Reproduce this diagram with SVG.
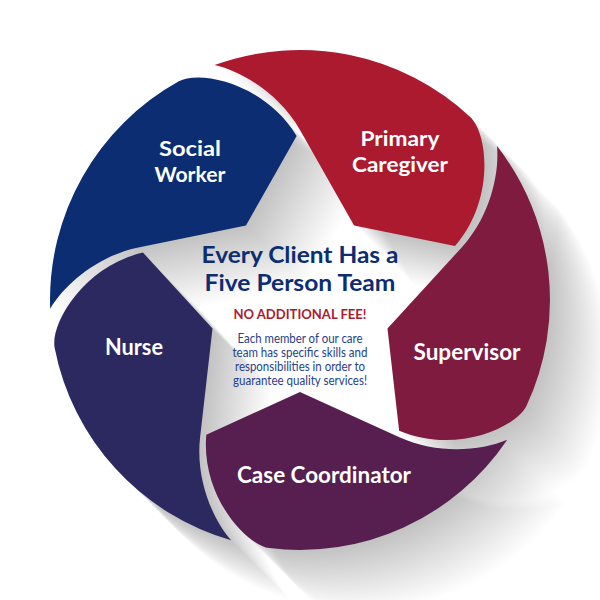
<svg xmlns="http://www.w3.org/2000/svg" xmlns:xlink="http://www.w3.org/1999/xlink" width="600" height="600" viewBox="0 0 600 600">
<style>
.lbl{font-family:Lato,"Open Sans","Liberation Sans",sans-serif;font-weight:700;font-size:23px;fill:#ffffff;text-anchor:middle}
.lbl2{font-family:Lato,"Open Sans","Liberation Sans",sans-serif;font-weight:700;font-size:21px;fill:#ffffff;text-anchor:middle}
.title{font-family:Lato,"Open Sans","Liberation Sans",sans-serif;font-weight:700;font-size:22px;fill:#0c2d72;text-anchor:middle}
.fee{font-family:Lato,"Open Sans","Liberation Sans",sans-serif;font-weight:700;font-size:14px;fill:#ad1a2e;text-anchor:middle}
.body{font-family:Lato,"Open Sans","Liberation Sans",sans-serif;font-weight:400;font-size:12.5px;fill:#27408b;text-anchor:middle}
</style>
<defs>
<path id="blade" d="M214.5,65.1 A250,250 0 0 1 470.5,117.2 C488,134 495,200 455,246.1 L354.1,225.6 L300,130 C280.3,95.2 243.6,71.7 214.5,65.1 Z"/>
<g id="all">
<use xlink:href="#blade"/>
<use xlink:href="#blade" transform="rotate(72 300 300)"/>
<use xlink:href="#blade" transform="rotate(144 300 300)"/>
<use xlink:href="#blade" transform="rotate(216 300 300)"/>
<use xlink:href="#blade" transform="rotate(288 300 300)"/>
</g>
</defs>
<rect width="600" height="600" fill="#ffffff"/>
<g id="long-shadow" fill="#000000" fill-opacity="0.0065">
<use xlink:href="#all" x="2" y="2"/><use xlink:href="#all" x="4" y="4"/><use xlink:href="#all" x="6" y="6"/><use xlink:href="#all" x="8" y="8"/><use xlink:href="#all" x="10" y="10"/>
<use xlink:href="#all" x="12" y="12"/><use xlink:href="#all" x="14" y="14"/><use xlink:href="#all" x="16" y="16"/><use xlink:href="#all" x="18" y="18"/><use xlink:href="#all" x="20" y="20"/>
<use xlink:href="#all" x="22" y="22"/><use xlink:href="#all" x="24" y="24"/><use xlink:href="#all" x="26" y="26"/><use xlink:href="#all" x="28" y="28"/><use xlink:href="#all" x="30" y="30"/>
<use xlink:href="#all" x="32" y="32"/><use xlink:href="#all" x="34" y="34"/><use xlink:href="#all" x="36" y="36"/><use xlink:href="#all" x="38" y="38"/><use xlink:href="#all" x="40" y="40"/>
<use xlink:href="#all" x="42" y="42"/><use xlink:href="#all" x="44" y="44"/><use xlink:href="#all" x="46" y="46"/><use xlink:href="#all" x="48" y="48"/><use xlink:href="#all" x="50" y="50"/>
<use xlink:href="#all" x="52" y="52"/><use xlink:href="#all" x="54" y="54"/><use xlink:href="#all" x="56" y="56"/><use xlink:href="#all" x="58" y="58"/><use xlink:href="#all" x="60" y="60"/>
</g>
<g id="connectors"></g>
<g id="node-social-worker">
<use xlink:href="#blade" transform="rotate(-72 300 300)" fill="#0c2d72"/>
<text class="lbl2" x="190" y="156" textLength="62" lengthAdjust="spacingAndGlyphs">Social</text>
<text class="lbl2" x="190" y="182" textLength="71" lengthAdjust="spacingAndGlyphs">Worker</text>
</g>
<g id="node-primary-caregiver">
<use xlink:href="#blade" fill="#ab1a2e"/>
<text class="lbl2" x="400" y="146" textLength="79" lengthAdjust="spacingAndGlyphs">Primary</text>
<text class="lbl2" x="400" y="172" textLength="96" lengthAdjust="spacingAndGlyphs">Caregiver</text>
</g>
<g id="node-supervisor">
<use xlink:href="#blade" transform="rotate(72 300 300)" fill="#7f1b3e"/>
<text class="lbl" x="467" y="360" textLength="107" lengthAdjust="spacingAndGlyphs">Supervisor</text>
</g>
<g id="node-case-coordinator">
<use xlink:href="#blade" transform="rotate(144 300 300)" fill="#561f4f"/>
<text class="lbl" x="324" y="483" textLength="174" lengthAdjust="spacingAndGlyphs">Case Coordinator</text>
</g>
<g id="node-nurse">
<use xlink:href="#blade" transform="rotate(216 300 300)" fill="#2c2961"/>
<text class="lbl" x="134" y="355" textLength="58" lengthAdjust="spacingAndGlyphs">Nurse</text>
</g>
<g id="node-center">
<text class="title" x="300" y="263" textLength="197" lengthAdjust="spacingAndGlyphs">Every Client Has a</text>
<text class="title" x="300" y="291" textLength="191" lengthAdjust="spacingAndGlyphs">Five Person Team</text>
<text class="fee" x="300" y="319" textLength="133" lengthAdjust="spacingAndGlyphs">NO ADDITIONAL FEE!</text>
<text class="body" x="300" y="343" textLength="125" lengthAdjust="spacingAndGlyphs">Each member of our care</text>
<text class="body" x="300" y="357" textLength="135" lengthAdjust="spacingAndGlyphs">team has specific skills and</text>
<text class="body" x="300" y="371" textLength="130" lengthAdjust="spacingAndGlyphs">responsibilities in order to</text>
<text class="body" x="300" y="385" textLength="134" lengthAdjust="spacingAndGlyphs">guarantee quality services!</text>
</g>
</svg>
